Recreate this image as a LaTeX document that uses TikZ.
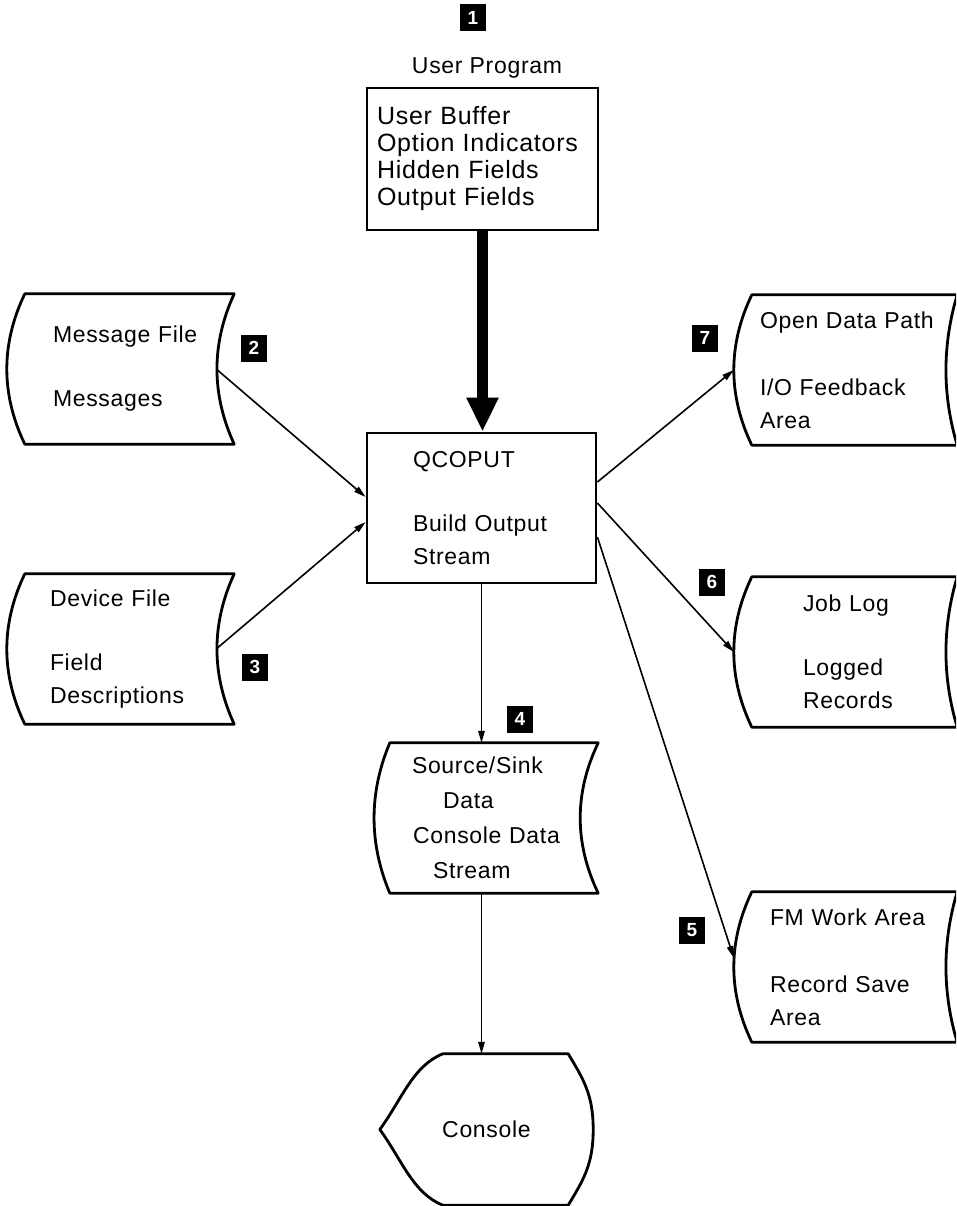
\documentclass[tikz,border=0pt]{standalone}
\usepackage{fontspec}
\setmainfont{Liberation Sans}[LetterSpace=3]
\usetikzlibrary{arrows.meta}

% Outline of a stored-data symbol around a node:
% #1 node name, #2 left control offset, #3 right control offset
\newcommand\storagepath[3]{%
  \draw[outline] (#1.north west) -- (#1.north east)
    .. controls +(-#3,50) and +(-#3,-50) .. (#1.south east)
    -- (#1.south west)
    .. controls +(-#2,-50) and +(-#2,50) .. (#1.north west) -- cycle;}

\begin{document}
\begin{tikzpicture}[x=1pt,y=-1pt,
  outline/.style={line width=2.8pt, line join=round},
  txt/.style={font=\fontsize{23}{33}\selectfont},
  box/.style={txt, draw, line width=2.8pt, inner sep=0pt, align=left},
  store/.style={txt, inner sep=0pt, minimum height=150pt, align=left},
  num/.style={fill=black, text=white, inner sep=0pt, minimum width=26pt,
    minimum height=27pt, font=\bfseries\fontsize{19}{19}\selectfont},
  conn/.style={line width=1.6pt, -{Triangle[length=12pt,width=6.5pt]}},
  bigarrow/.style={line width=11pt, -{Triangle[length=34pt,width=30pt]}}]

\useasboundingbox (0,0) rectangle (956,1206);
\clip (0,0) rectangle (956,1206);

% program side
\node[num] (n1) at (473,18) {1};
\node[txt] (prog) at (487,68) {User Program};
\node[box, minimum width=231pt, minimum height=142pt, text width=211pt,
  font=\fontsize{25}{27}\selectfont] (user) at (482.5,159)
  {User Buffer\\Option Indicators\\Hidden Fields\\Output Fields};

\node[box, minimum width=229pt, minimum height=150pt, text width=137pt]
  (qc) at (481.5,508) {QCOPUT\\[31pt]Build Output\\Stream};

% input files
\node[store, minimum width=209pt, text width=153pt] (msg) at (129.5,369)
  {Message File\\[31pt]Messages};
\storagepath{msg}{24}{23}
\node[store, minimum width=209pt, text width=159pt] (dev) at (129.5,649)
  {Device File\\[31pt]Field\\Descriptions};
\storagepath{dev}{24}{23}

% output areas
\node[store, minimum width=205pt, text width=189pt] (odp) at (854.5,370)
  {Open Data Path\\[34pt]I/O Feedback\\Area};
\storagepath{odp}{24}{15}
\node[store, minimum width=205pt, text width=103pt] (job) at (854.5,652)
  {Job Log\\[31pt]Logged\\Records};
\storagepath{job}{24}{15}
\node[store, minimum width=205pt, text width=169pt] (fm) at (854.5,967)
  {FM Work Area\\[34pt]Record Save\\Area};
\storagepath{fm}{24}{15}

\node[store, minimum width=208pt, text width=164pt,
  font=\fontsize{23}{35}\selectfont] (src) at (494,818)
  {Source/Sink\\\hspace*{31pt}Data\\\hspace*{1pt}Console Data\\\hspace*{21pt}Stream};
\storagepath{src}{21}{24}

% console display
\node[txt, minimum width=213pt, minimum height=151pt, inner sep=0pt]
  (con) at (486.5,1129.5) {Console};
\draw[outline] ([xshift=63pt]con.north west) -- ([xshift=-25pt]con.north east)
  .. controls +(15,25) and +(0,-35) .. (con.east)
  .. controls +(0,35) and +(15,-25) .. ([xshift=-25pt]con.south east)
  -- ([xshift=63pt]con.south west)
  .. controls +(-30,-12) and +(22,30) .. (con.west)
  .. controls +(22,-30) and +(-30,12) .. ([xshift=63pt]con.north west) -- cycle;

% step numbers
\node[num] (n2) at (254,348) {2};
\node[num] (n3) at (255,667) {3};
\node[num] (n4) at (520,719) {4};
\node[num] (n5) at (692,930) {5};
\node[num] (n6) at (712,582) {6};
\node[num] (n7) at (705,338) {7};

% flows
\draw[bigarrow] (user.south) -- (user.south |- qc.north);
\draw[conn] ([xshift=-18pt]msg.east) -- ([yshift=11pt]qc.west);
\draw[conn] ([xshift=-18pt]dev.east) -- ([yshift=-14pt]qc.west);
\draw[conn] ([yshift=26pt]qc.east) -- ([xshift=-18pt]odp.west);
\draw[conn] ([yshift=5pt]qc.east) -- ([xshift=-18pt]job.west);
\draw[conn] ([yshift=-29pt]qc.east) -- ([xshift=-18pt,yshift=9pt]fm.west);
\draw[conn] (qc.south) -- (qc.south |- src.north);
\draw[conn] (qc.south |- src.south) -- (qc.south |- con.north);
\end{tikzpicture}
\end{document}
